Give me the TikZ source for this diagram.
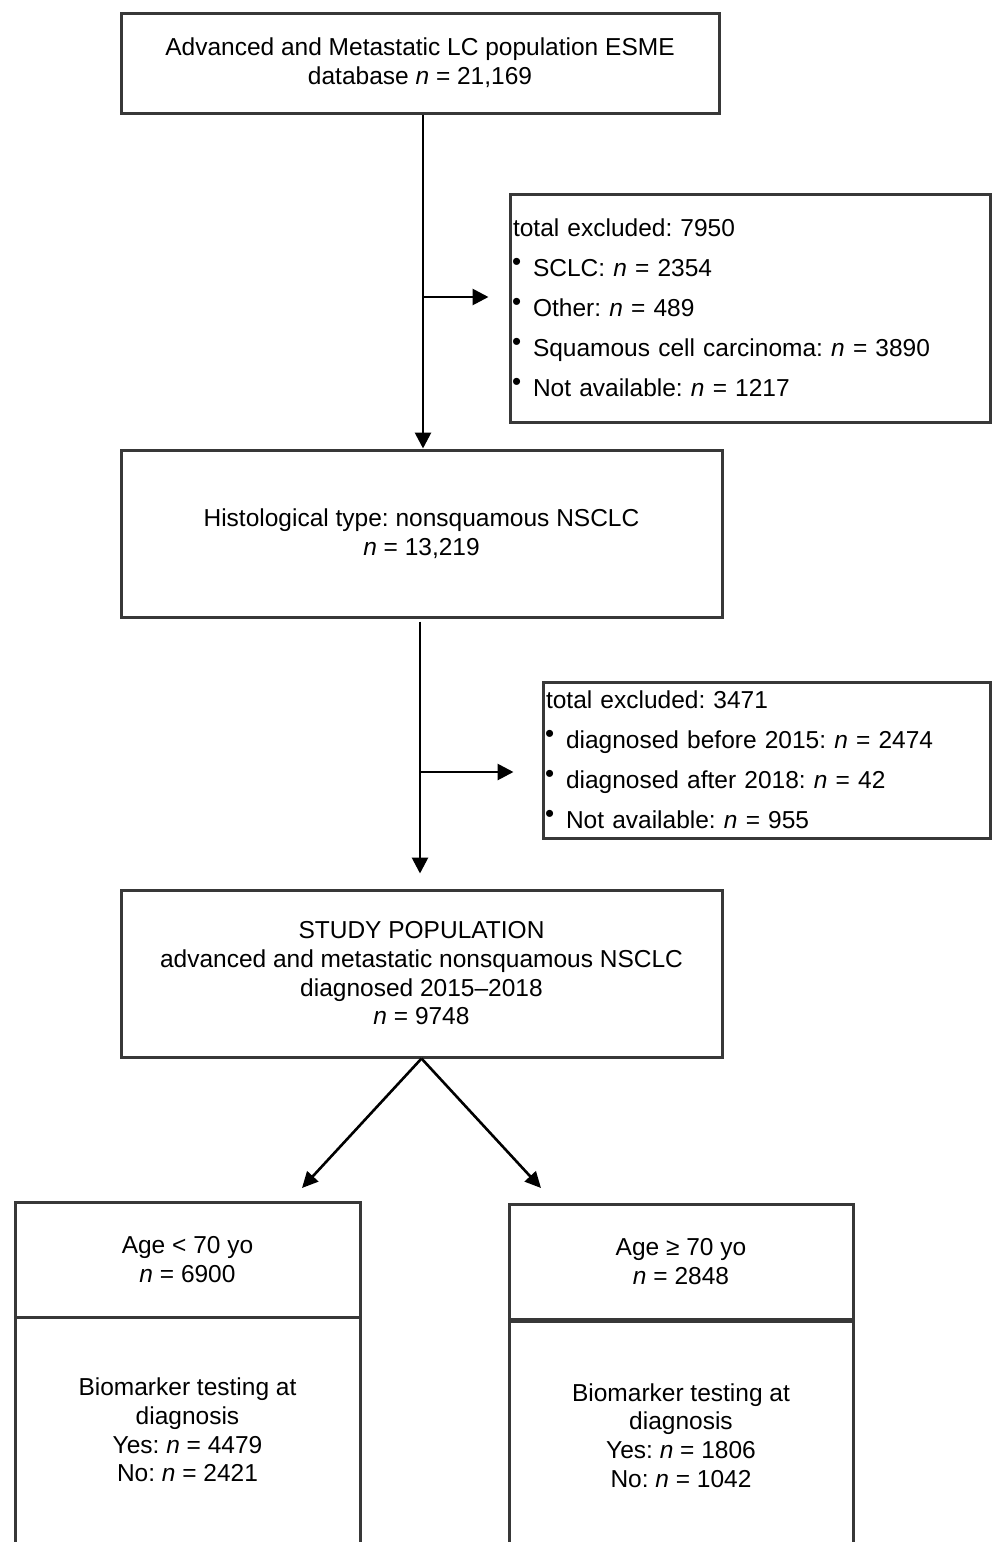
\documentclass[tikz,border=0pt]{standalone}
\usepackage{fontspec}
\setmainfont{Liberation Sans}
\usetikzlibrary{arrows.meta,calc}
\frenchspacing
\newcommand\fsbox{\fontsize{24.5}{28.7}\selectfont}
\newcommand\fsexc{\fontsize{24.5}{40}\selectfont}
\newcommand\bul{\makebox[20pt][l]{\hspace{-1pt}\raisebox{6pt}{\fontsize{26}{26}\selectfont •}}}
\begin{document}
\begin{tikzpicture}[x=1pt,y=-1pt,
  box/.style={draw=black!78, line width=3pt, align=center, inner sep=0pt, font=\fsbox},
  excbox/.style={draw=black!78, line width=3pt, align=left, inner xsep=3pt, inner ysep=0pt, font=\fsexc},
  arr/.style={line width=2.8pt, draw=black, -{Triangle[length=16pt,width=16pt]}},
  diarr/.style={line width=2.6pt, draw=black, -{Triangle[length=16pt,width=15pt]}},
]
\useasboundingbox (0,0) rectangle (993,1542);
\clip (0,0) rectangle (993,1542);

\node[box, minimum width=598pt, minimum height=100pt] (b1) at (420,63)
  {Advanced and Metastatic LC population ESME\\database \textit{n} = 21,169};

\node[excbox, text width=474pt, minimum height=228pt] (ex1) at (750,308)
  {total excluded: 7950\\
   \bul SCLC: \textit{n} = 2354\\
   \bul Other: \textit{n} = 489\\
   \bul Squamous cell carcinoma: \textit{n} = 3890\\
   \bul Not available: \textit{n} = 1217};

\node[box, minimum width=601pt, minimum height=167pt] (b2) at (421.5,533.5)
  {Histological type: nonsquamous NSCLC\\\textit{n} = 13,219};

\node[excbox, text width=441pt, minimum height=156pt] (ex2) at (766.5,760)
  {total excluded: 3471\\
   \bul diagnosed before 2015: \textit{n} = 2474\\
   \bul diagnosed after 2018: \textit{n} = 42\\
   \bul Not available: \textit{n} = 955};

\node[box, minimum width=601pt, minimum height=167pt] (b3) at (421.5,973.5)
  {STUDY POPULATION\\advanced and metastatic nonsquamous NSCLC\\diagnosed 2015--2018\\\textit{n} = 9748};

\node[box, minimum width=345pt, minimum height=115pt] (l1) at (187.5,1259.5)
  {Age < 70 yo\\\textit{n} = 6900};
\node[box, minimum width=345pt, minimum height=226pt] (l2) at (187.5,1430)
  {Biomarker testing at\\diagnosis\\Yes: \textit{n} = 4479\\No: \textit{n} = 2421};

\node[box, minimum width=344pt, minimum height=115pt] (r1) at (681,1261.5)
  {Age ≥ 70 yo\\\textit{n} = 2848};
\node[box, minimum width=344pt, minimum height=229pt] (r2) at (681,1435.5)
  {Biomarker testing at\\diagnosis\\Yes: \textit{n} = 1806\\No: \textit{n} = 1042};

% connectors
\draw[arr] ([xshift=3pt]b1.south) -- ([xshift=1.5pt]b2.north);
\coordinate (j1) at (423,297);
\draw[arr] (j1) -- ($(j1 -| ex1.west)+(-20,0)$);

\draw[arr] ([xshift=-1.5pt,yshift=-3pt]b2.south) -- ([xshift=-1.5pt,yshift=15pt]b3.north);
\coordinate (j2) at (420,772);
\draw[arr] (j2) -- ($(j2 -| ex2.west)+(-28,0)$);

\coordinate (t1) at (302,1188);
\coordinate (t2) at (541,1188);
\draw[diarr] (b3.south) -- (t1);
\draw[diarr] (b3.south) -- (t2);
\end{tikzpicture}
\end{document}
